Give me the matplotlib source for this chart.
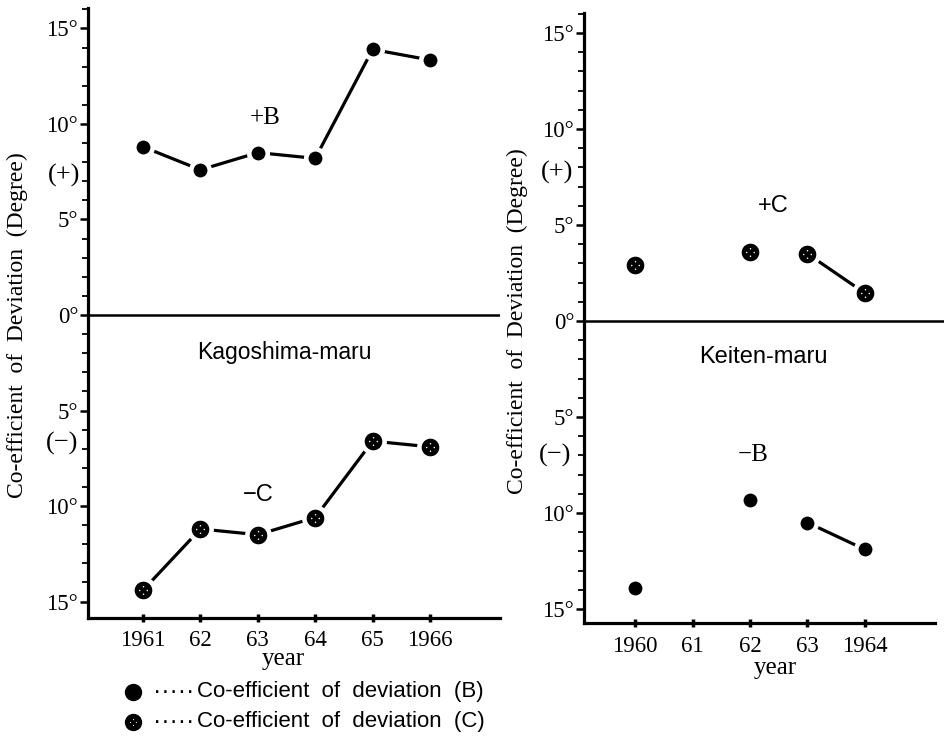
import matplotlib
matplotlib.use("Agg")
import matplotlib.pyplot as plt
from matplotlib.path import Path
from matplotlib.lines import Line2D
from matplotlib.ticker import MultipleLocator, FuncFormatter

# ---------------- data ----------------
kago_years = [1961, 1962, 1963, 1964, 1965, 1966]
kago_B = [8.8, 7.6, 8.5, 8.2, 13.9, 13.35]          # +B
kago_C = [-14.4, -11.2, -11.5, -10.6, -6.6, -6.9]   # -C

keiten_years_pts = [1960, 1962, 1963, 1964]
keiten_C = [2.9, 3.6, 3.5, 1.45]                    # +C
keiten_B = [-13.9, -9.3, -10.5, -11.9]              # -B
keiten_line_years = [1963, 1964]
keiten_C_line = [3.5, 1.45]
keiten_B_line = [-10.5, -11.9]

kago_ticks = [1961, 1962, 1963, 1964, 1965, 1966]
kago_ticklabels = ["1961", "62", "63", "64", "65", "1966"]
keiten_ticks = [1960, 1961, 1962, 1963, 1964]
keiten_ticklabels = ["1960", "61", "62", "63", "1964"]

ylabel = "Co-efficient  of  Deviation  (Degree)"
legend_B = "Co-efficient  of  deviation  (B)"
legend_C = "Co-efficient  of  deviation  (C)"

# --------------- styles ---------------
SERIF = ["Liberation Serif", "DejaVu Serif"]
SANS = ["Liberation Sans", "DejaVu Sans"]
W, H = 944, 748

# dotted pattern (white specks inside black disc)
def _dots_path():
    r = 0.10
    centers = [(0, 0.5), (-0.5, 0), (0.5, 0), (0, -0.5)]
    return Path.make_compound_path(*[Path.circle(c, r) for c in centers])

DOTS = _dots_path()

def plot_B(ax, x, y):
    ax.plot(x, y, ls="none", marker="o", ms=13.3, mfc="black", mec="white",
            mew=3.3, zorder=4)

def plot_C(ax, x, y):
    ax.plot(x, y, ls="none", marker="o", ms=16.0, mfc="black", mec="white",
            mew=3.3, zorder=4)
    ax.plot(x, y, ls="none", marker=DOTS, ms=6.5, mfc="white", mec="none",
            zorder=5)

def style_axis(ax, xlim, ylim, ticks, ticklabels):
    ax.set_xlim(*xlim)
    ax.set_ylim(*ylim)
    for s in ("top", "right"):
        ax.spines[s].set_visible(False)
    for s in ("left", "bottom"):
        ax.spines[s].set_linewidth(2.3)
    ax.yaxis.set_major_locator(MultipleLocator(5))
    ax.yaxis.set_minor_locator(MultipleLocator(1))
    ax.yaxis.set_major_formatter(FuncFormatter(lambda v, p: f"{abs(int(round(v)))}°"))
    ax.tick_params(axis="y", which="major", length=6, width=1.8, direction="out", pad=1)
    ax.tick_params(axis="y", which="minor", length=4, width=1.3, direction="out")
    ax.set_xticks(ticks)
    ax.set_xticklabels(ticklabels)
    ax.tick_params(axis="x", which="major", length=6, width=2.5, direction="inout", pad=6)
    for lab in ax.get_xticklabels() + ax.get_yticklabels():
        lab.set_family(SERIF)
        lab.set_fontsize(16.5)

fig = plt.figure(figsize=(W / 100, H / 100), dpi=100)

# ---------------- left panel (Kagoshima-maru) ----------------
axL = fig.add_axes([88 / W, 1 - 618 / H, 412 / W, 610 / H])
style_axis(axL, (1960.04, 1967.22), (-15.86, 16.07), kago_ticks, kago_ticklabels)
axL.axhline(0, color="black", lw=1.8, zorder=1)
axL.plot(kago_years, kago_B, color="black", lw=2.3, zorder=2)
axL.plot(kago_years, kago_C, color="black", lw=2.3, zorder=2)
plot_B(axL, kago_years, kago_B)
plot_C(axL, kago_years, kago_C)
axL.text(1963.13, 10.3, "+B", family=SERIF, fontsize=18, ha="center", va="center")
axL.text(1963.47, -1.95, "Kagoshima-maru", family=SANS, fontsize=16.5, ha="center", va="center")
axL.text(1963.0, -9.4, "−C", family=SANS, fontsize=17, ha="center", va="center")

# ---------------- right panel (Keiten-maru) ----------------
axR = fig.add_axes([584 / W, 1 - 623 / H, 351 / W, 610 / H])
style_axis(axR, (1959.11, 1965.22), (-15.73, 16.04), keiten_ticks, keiten_ticklabels)
axR.axhline(0, xmin=0, xmax=1.03, color="black", lw=1.8, zorder=1, clip_on=False)
axR.plot(keiten_line_years, keiten_C_line, color="black", lw=2.3, zorder=2)
axR.plot(keiten_line_years, keiten_B_line, color="black", lw=2.3, zorder=2)
plot_C(axR, keiten_years_pts, keiten_C)
plot_B(axR, keiten_years_pts, keiten_B)
axR.text(1962.4, 6.0, "+C", family=SANS, fontsize=17, ha="center", va="center")
axR.text(1962.23, -1.9, "Keiten-maru", family=SANS, fontsize=17, ha="center", va="center")
axR.text(1962.05, -7.0, "−B", family=SERIF, fontsize=18, ha="center", va="center")

# ---------------- outer labels ----------------
def ftext(x, y, s, **kw):
    fig.text(x / W, 1 - y / H, s, **kw)

ftext(17, 325, ylabel, rotation=90, family=SERIF, fontsize=17, ha="center", va="center")
ftext(517, 321, ylabel, rotation=90, family=SERIF, fontsize=17, ha="center", va="center")
ftext(64, 175, "(+)", family=SERIF, fontsize=19, ha="center", va="center")
ftext(62, 443, "(−)", family=SERIF, fontsize=19, ha="center", va="center")
ftext(557, 172, "(+)", family=SERIF, fontsize=19, ha="center", va="center")
ftext(555, 455, "(−)", family=SERIF, fontsize=19, ha="center", va="center")
ftext(283, 659, "year", family=SERIF, fontsize=18, ha="center", va="center")
ftext(775, 668, "year", family=SERIF, fontsize=18, ha="center", va="center")

# ---------------- legend ----------------
lx, yB, yC = 133, 692, 722
fig.add_artist(Line2D([lx / W], [1 - yB / H], transform=fig.transFigure, ls="none",
                      marker="o", ms=11.5, mfc="black", mec="black"))
fig.add_artist(Line2D([lx / W], [1 - yC / H], transform=fig.transFigure, ls="none",
                      marker="o", ms=11.5, mfc="black", mec="black"))
fig.add_artist(Line2D([lx / W], [1 - yC / H], transform=fig.transFigure, ls="none",
                      marker=DOTS, ms=5, mfc="white", mec="none"))
for yy, txt in ((yB, legend_B), (yC, legend_C)):
    ftext(153, yy, "·····", family=SANS, fontsize=18, ha="left", va="center")
    ftext(197, yy, txt, family=SANS, fontsize=16, ha="left", va="center")

fig.savefig("out.png", dpi=100)
